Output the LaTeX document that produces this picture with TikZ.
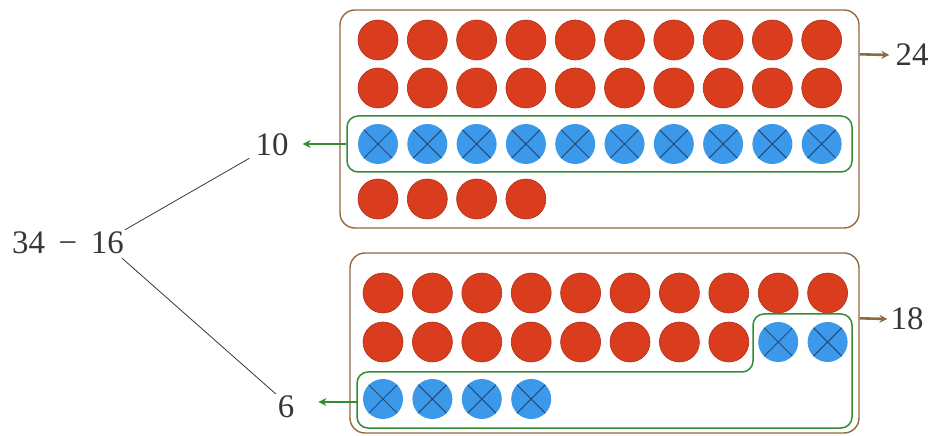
\documentclass[tikz,border=0pt]{standalone}
\usepackage{fontspec}
\setmainfont{Liberation Serif}
\usetikzlibrary{arrows.meta}
\definecolor{dotred}{RGB}{218,60,30}
\definecolor{dotblue}{RGB}{60,152,232}
\definecolor{crossline}{RGB}{35,75,125}
\definecolor{boxbrown}{RGB}{145,105,65}
\definecolor{grp}{RGB}{50,140,50}
\definecolor{ink}{RGB}{55,55,55}
\begin{document}
\begin{tikzpicture}[x=1bp,y=-1bp,
  reddot/.style={circle, fill=dotred, draw=dotred!80!black, line width=0.6bp, minimum size=40bp, inner sep=0pt},
  bluedot/.style={circle, fill=dotblue, minimum size=40bp, inner sep=0pt,
    path picture={\draw[crossline, line width=1bp]
      (path picture bounding box.south west) -- (path picture bounding box.north east)
      (path picture bounding box.north west) -- (path picture bounding box.south east);}},
  bigbox/.style={draw=boxbrown, line width=1.4bp, rounded corners=15bp, inner sep=0pt},
  grpline/.style={draw=grp, line width=1.5bp, rounded corners=11bp},
  num/.style={font=\fontsize{33}{38}\selectfont, text=ink, inner sep=0pt},
  brownarrow/.style={draw=boxbrown, line width=2.6bp, -{Stealth[length=8bp,width=8bp]}},
  greenarrow/.style={draw=grp, line width=2.6bp, -{Stealth[length=8bp,width=8bp]}},
  branch/.style={draw=ink, line width=0.8bp}]
\useasboundingbox (0,0) rectangle (932,436);

% top box
\node[bigbox, minimum width=519bp, minimum height=218bp] (topbox) at (599.5,119) {};
\foreach \c in {0,...,9} {
  \node[reddot] (ta\c) at (378+49.3*\c,40) {};
  \node[reddot] (tb\c) at (378+49.3*\c,88) {};
  \node[bluedot] (tc\c) at (378+49.3*\c,144) {};
}
\foreach \c in {0,...,3} {
  \node[reddot] (td\c) at (378+49.3*\c,199) {};
}
\node[grpline, draw, inner sep=0pt, minimum width=505bp, minimum height=56bp] (g1) at (599.5,144) {};

% bottom box
\node[bigbox, minimum width=509bp, minimum height=180bp] (botbox) at (604.5,343) {};
\foreach \c in {0,...,9} {
  \node[reddot] (ba\c) at (383+49.4*\c,293) {};
}
\foreach \c in {0,...,7} {
  \node[reddot] (bb\c) at (383+49.4*\c,342) {};
}
\foreach \c in {8,9} {
  \node[bluedot] (bb\c) at (383+49.4*\c,342) {};
}
\foreach \c in {0,...,3} {
  \node[bluedot] (bc\c) at (383+49.4*\c,399) {};
}
\coordinate (g2w) at (357,402);
\draw[grpline] (357,372) -- (753,372) -- (753,314) -- (852,314) -- (852,428) -- (357,428) -- cycle;

% numbers
\node[num] (t24) at (912,55) {24};
\node[num] (t18) at (907,319) {18};
\node[num] (t10) at (272,145) {10};
\node[num] (t6) at (286,407) {6};
\node[num] (eq) at (68,243) {34\, − \,16};

% arrows
\draw[brownarrow] ([yshift=-45bp]topbox.north east) -- ([xshift=-6bp]t24.west |- {(0,55)});
\draw[brownarrow] ([yshift=-66bp]botbox.north east) -- ([xshift=-3bp]t18.west |- {(0,319)});
\draw[greenarrow] (g1.west) -- ([xshift=14bp]t10.east |- {(0,144)});
\draw[greenarrow] (g2w) -- ([xshift=24bp]t6.east |- {(0,402)});

% branches
\draw[branch] ([shift={(1bp,2bp)}]eq.north east) -- ([shift={(-6bp,-2bp)}]t10.south west);
\draw[branch] ([shift={(-2bp,-4bp)}]eq.south east) -- ([shift={(-2bp,2bp)}]t6.north west);
\end{tikzpicture}
\end{document}
